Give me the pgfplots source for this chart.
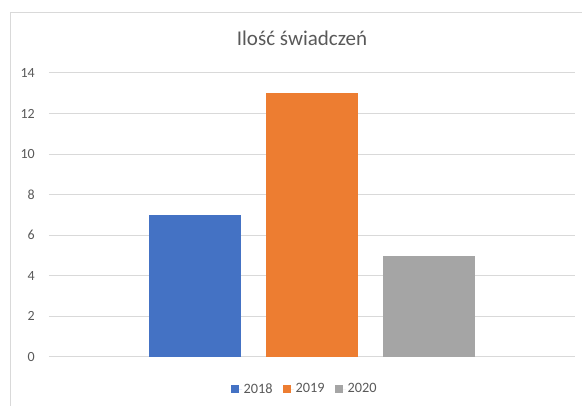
\documentclass[border=0pt]{standalone}
\usepackage{fontspec}
\setmainfont{Carlito}
\usepackage{pgfplots}
\pgfplotsset{compat=1.18}
\definecolor{txt}{HTML}{595959}
\definecolor{gridc}{HTML}{D9D9D9}
\definecolor{c2018}{HTML}{4472C4}
\definecolor{c2019}{HTML}{ED7D31}
\definecolor{c2020}{HTML}{A5A5A5}
\pgfplotsset{sqlegend/.style={legend image code/.code={\fill[##1] (0pt,-4pt) rectangle (8pt,4pt); \path (0pt,0pt) -- (11pt,0pt);}}}
\begin{document}
\begin{tikzpicture}[x=1pt,y=1pt]
\useasboundingbox (0,0) rectangle (582,406);
\draw[gridc, line width=1pt] (10,0) -- (10,393.3) -- (582,393.3);
\node[anchor=base, font=\fontsize{21}{25}\selectfont, text=txt, inner sep=0pt] at (302,360) {Ilość świadczeń};
\begin{axis}[
  at={(49pt,49pt)}, anchor=south west,
  width=526pt, height=284pt, scale only axis,
  xmin=-0.5, xmax=0.5, ymin=0, ymax=14,
  xtick=\empty, ytick={0,2,...,14},
  ymajorgrids, grid style={gridc, line width=1pt},
  axis line style={draw=none},
  major tick length=0pt,
  clip=false,
  yticklabel style={font=\fontsize{14}{17}\selectfont, text=txt, inner sep=0pt, xshift=-14pt},
  /pgf/number format/assume math mode=true,
  legend style={at={(0.486,-0.1127)}, anchor=center, draw=none, fill=none,
    legend columns=-1, font=\fontsize{14.3}{17}\selectfont,
    nodes={text=txt, inner sep=1.5pt},
    /tikz/every even column/.append style={column sep=9pt}},
]
\addplot[ybar, bar width=92pt, bar shift=-117pt, fill=c2018, draw=none, sqlegend] coordinates {(0,7)};
\addplot[ybar, bar width=92pt, bar shift=0pt, fill=c2019, draw=none, sqlegend] coordinates {(0,13)};
\addplot[ybar, bar width=92pt, bar shift=117pt, fill=c2020, draw=none, sqlegend] coordinates {(0,5)};
\legend{2018,2019,2020}
\end{axis}
\end{tikzpicture}
\end{document}
